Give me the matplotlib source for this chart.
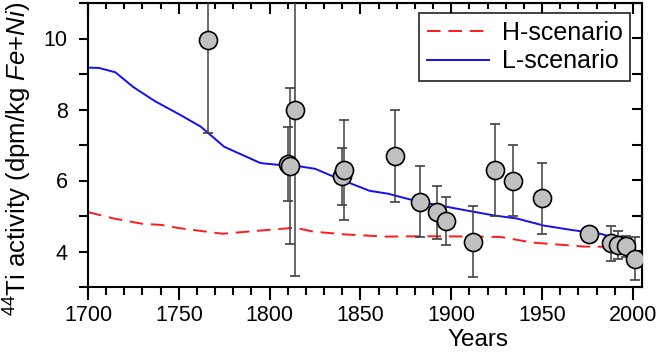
import numpy as np
import matplotlib
matplotlib.use("Agg")
import matplotlib.pyplot as plt
from matplotlib.ticker import MultipleLocator

plt.rcParams['font.family'] = ['Liberation Sans', 'DejaVu Sans']
plt.rcParams['mathtext.fontset'] = 'custom'
plt.rcParams['mathtext.rm'] = 'Liberation Sans'
plt.rcParams['mathtext.it'] = 'Liberation Sans:italic'

# measured 44Ti activities
meas_year = [1766, 1810, 1811, 1814, 1840, 1841, 1869, 1883, 1892, 1897,
             1912, 1924, 1934, 1950, 1976, 1988, 1992, 1996, 2001]
meas_val = [9.95, 6.47, 6.40, 8.0, 6.12, 6.30, 6.70, 5.40, 5.10, 4.85,
            4.27, 6.30, 6.00, 5.50, 4.50, 4.23, 4.18, 4.15, 3.80]
meas_err = [2.6, 1.05, 2.2, 4.7, 0.8, 1.4, 1.3, 1.0, 0.75, 0.68,
            1.0, 1.3, 1.0, 1.0, 0.1, 0.5, 0.4, 0.3, 0.6]

# model curves
h_year = [1700, 1715, 1730, 1740, 1750, 1774, 1795, 1814, 1824, 1842,
          1864, 1886, 1914, 1927, 1945, 1973, 1987, 1995]
h_val = [5.11, 4.92, 4.78, 4.75, 4.66, 4.50, 4.59, 4.67, 4.56, 4.48,
         4.42, 4.43, 4.42, 4.41, 4.25, 4.14, 4.13, 4.17]
l_year = [1700, 1706, 1715, 1725, 1737, 1750, 1762, 1775, 1795, 1805,
          1815, 1825, 1838, 1855, 1865, 1877, 1890, 1908, 1923, 1936,
          1951, 1967, 1982, 1987, 1995]
l_val = [9.18, 9.17, 9.05, 8.63, 8.23, 7.87, 7.52, 6.95, 6.49, 6.44,
         6.41, 6.33, 6.05, 5.71, 5.63, 5.47, 5.33, 5.16, 5.02, 4.93,
         4.73, 4.60, 4.50, 4.43, 4.41]

fig = plt.figure(figsize=(6.56, 3.52), dpi=100)
ax = fig.add_axes([88 / 656, 1 - 287 / 352, (642 - 88) / 656, (287 - 3) / 352])

ax.plot(h_year, h_val, color='#ff1a1a', ls=(0, (7, 4)), lw=1.4, label='H-scenario', zorder=2)
ax.plot(l_year, l_val, color='#1010f0', lw=1.4, label='L-scenario', zorder=2)
ax.errorbar(meas_year, meas_val, yerr=meas_err, fmt='o', ms=13, mfc='#c0c0c0',
            mec='black', mew=1.2, ecolor='#404040', elinewidth=1.1, capsize=3.5,
            capthick=1.1, zorder=3)

ax.set_xlim(1700, 2005)
ax.set_ylim(3, 11)
ax.xaxis.set_major_locator(MultipleLocator(50))
ax.xaxis.set_minor_locator(MultipleLocator(10))
ax.set_yticks([4, 6, 8, 10])
ax.yaxis.set_minor_locator(MultipleLocator(1))

for s in ax.spines.values():
    s.set_linewidth(1.5)
ax.tick_params(which='major', direction='out', width=1.5, labelsize=15.5)
ax.tick_params(axis='x', which='major', length=9, pad=4)
ax.tick_params(axis='x', which='minor', direction='out', length=5.5, width=1.5)
ax.tick_params(axis='y', which='major', length=6.5, pad=8)
ax.tick_params(axis='y', which='minor', direction='out', length=6.5, width=1.5)

top = ax.secondary_xaxis('top')
top.xaxis.set_major_locator(MultipleLocator(50))
top.xaxis.set_minor_locator(MultipleLocator(10))
top.tick_params(which='major', direction='in', length=8, width=1.5, labeltop=False)
top.tick_params(which='minor', direction='in', length=4, width=1.5)
right = ax.secondary_yaxis('right')
right.yaxis.set_major_locator(MultipleLocator(1))
right.tick_params(which='major', direction='in', length=7, width=1.5, labelright=False)

fig.text(477.5 / 656, 1 - 351 / 352, 'Years', fontsize=17.5, ha='center', va='bottom')
fig.text(18 / 656, 1 - 159 / 352, r'$^{44}$Ti activity (dpm/kg $\mathit{Fe}$+$\mathit{Ni}$)',
         fontsize=18.5, rotation=90, ha='center', va='center')

leg = ax.legend(loc='upper right', bbox_to_anchor=(630 / 656, 1 - 13 / 352),
                bbox_transform=fig.transFigure, fontsize=18, frameon=True,
                fancybox=False, edgecolor='black', handlelength=2.5, borderpad=0.3,
                labelspacing=0.2, handletextpad=0.5, borderaxespad=0.0)
leg.get_frame().set_linewidth(1.3)

fig.savefig('out.png', dpi=100)
